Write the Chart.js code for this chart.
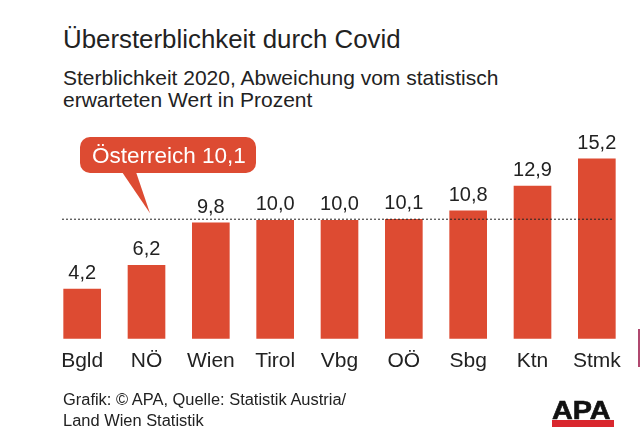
<!DOCTYPE html>
<html lang="de">
<head>
<meta charset="utf-8">
<title>Übersterblichkeit durch Covid</title>
<script src="https://cdn.jsdelivr.net/npm/chart.js@4"></script>
<style>
    html, body { margin: 0; padding: 0; background: #fff; }
    body { width: 640px; height: 444px; overflow: hidden; position: relative; font-family: "Liberation Sans", Arial, sans-serif; color: #222; }
    canvas { position: absolute; left: 0; top: 0; }
    .txt { position: absolute; left: 63px; white-space: nowrap; }
    #title { top: 24px; font-size: 25.85px; line-height: 30px; }
    #subtitle { top: 67px; font-size: 21px; line-height: 22px; }
    #source { top: 389px; font-size: 16.45px; line-height: 21px; }
    #logo-text { position: absolute; left: 552px; top: 398px; font-size: 25px; line-height: 25px; font-weight: bold; color: #111; -webkit-text-stroke: 0.6px #111; transform: scaleX(1.15); transform-origin: left top; }
    #logo-bar { position: absolute; left: 552px; top: 420px; width: 62px; height: 7px; background: #d9272e; }
    #edge { position: absolute; left: 638px; top: 329px; width: 2px; height: 38px; background: #b0486f; }
</style>
</head>
<body>
<div class="txt" id="title">Übersterblichkeit durch Covid</div>
<div class="txt" id="subtitle">Sterblichkeit 2020, Abweichung vom statistisch<br>erwarteten Wert in Prozent</div>
<canvas id="chart" width="640" height="444"></canvas>
<div class="txt" id="source">Grafik: © APA, Quelle: Statistik Austria/<br>Land Wien Statistik</div>
<div id="logo-text">APA</div>
<div id="logo-bar"></div>
<div id="edge"></div>
<script>
const regions = ['Bgld', 'NÖ', 'Wien', 'Tirol', 'Vbg', 'OÖ', 'Sbg', 'Ktn', 'Stmk'];
const excess = [4.2, 6.2, 9.8, 10.0, 10.0, 10.1, 10.8, 12.9, 15.2];
const austria = 10.1;
const calloutText = 'Österreich 10,1';

const RED = '#dd4b32';
const DARK = '#222222';

// Wert-Beschriftung ueber den Balken
const barLabels = {
    id: 'barLabels',
    afterDatasetsDraw(chart) {
        const ctx = chart.ctx;
        const meta = chart.getDatasetMeta(0);
        ctx.save();
        ctx.font = '20px "Liberation Sans", Arial, sans-serif';
        ctx.fillStyle = DARK;
        ctx.textAlign = 'center';
        ctx.textBaseline = 'alphabetic';
        meta.data.forEach((bar, i) => {
            ctx.fillText(excess[i].toFixed(1).replace('.', ','), bar.x, bar.y - 10);
        });
        ctx.restore();
    }
};

// gepunktete Linie fuer den Oesterreich-Wert plus Sprechblase
const austriaLine = {
    id: 'austriaLine',
    afterDraw(chart) {
        const ctx = chart.ctx;
        const y = chart.scales.y.getPixelForValue(austria);
        ctx.save();
        ctx.strokeStyle = '#222';
        ctx.lineWidth = 1;
        ctx.setLineDash([2, 2]);
        ctx.beginPath();
        ctx.moveTo(62, y);
        ctx.lineTo(614, y);
        ctx.stroke();
        ctx.setLineDash([]);

        ctx.fillStyle = RED;
        ctx.beginPath();
        ctx.roundRect(80, 137, 176, 36, 10);
        ctx.fill();
        ctx.beginPath();
        ctx.moveTo(122, 172);
        ctx.lineTo(150, y - 6);
        ctx.lineTo(136, 172);
        ctx.closePath();
        ctx.fill();

        ctx.fillStyle = '#fff';
        ctx.font = '22.5px "Liberation Sans", Arial, sans-serif';
        ctx.textBaseline = 'alphabetic';
        ctx.fillText(calloutText, 92, 163);
        ctx.restore();
    }
};

new Chart(document.getElementById('chart').getContext('2d'), {
    type: 'bar',
    data: {
        labels: regions,
        datasets: [{
            data: excess,
            backgroundColor: RED,
            borderWidth: 0,
            barThickness: 37
        }]
    },
    options: {
        responsive: false,
        animation: false,
        layout: { padding: { left: 50, right: 11, top: 102, bottom: 60 } },
        plugins: { legend: { display: false }, title: { display: false }, tooltip: { enabled: false } },
        scales: {
            x: {
                grid: { display: false, drawTicks: false },
                border: { display: false },
                ticks: {
                    color: DARK,
                    font: { family: '"Liberation Sans", Arial, sans-serif', size: 21 },
                    padding: 10,
                    maxRotation: 0,
                    autoSkip: false
                }
            },
            y: { display: false, min: 0, max: 20 }
        }
    },
    plugins: [barLabels, austriaLine]
});
</script>
</body>
</html>
